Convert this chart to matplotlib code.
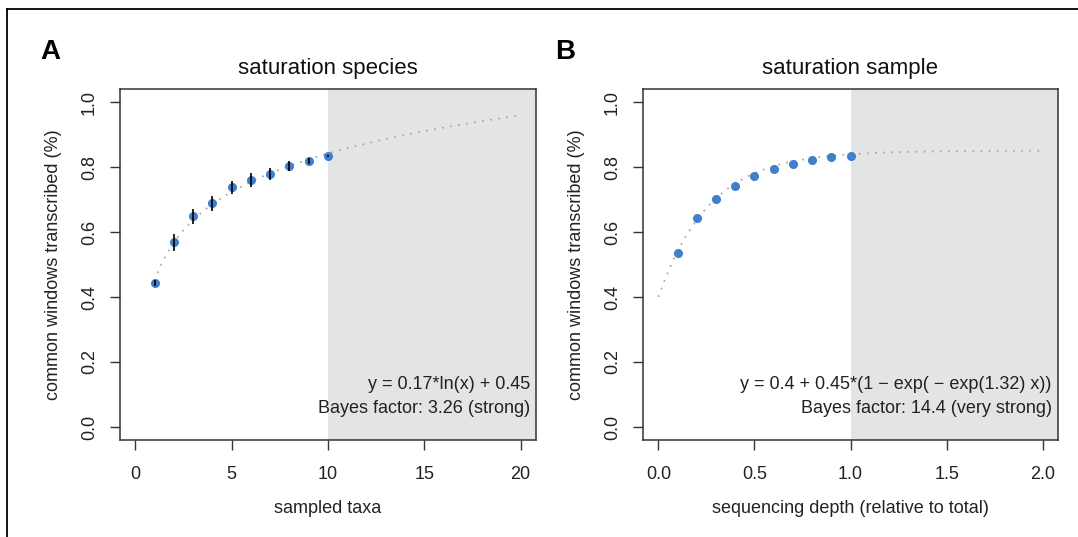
import numpy as np
import matplotlib
matplotlib.use("Agg")
import matplotlib.pyplot as plt
from matplotlib.lines import Line2D

plt.rcParams['font.family'] = ['Liberation Sans', 'DejaVu Sans']

# panel A: saturation over species
taxa = [1, 2, 3, 4, 5, 6, 7, 8, 9, 10]
taxa_mean = [0.442, 0.568, 0.648, 0.688, 0.738, 0.760, 0.779, 0.803, 0.819, 0.835]
taxa_err = [0.009, 0.026, 0.022, 0.023, 0.020, 0.023, 0.019, 0.015, 0.010, 0.003]
fit_a = (0.17, 0.45)          # y = a*ln(x) + b
bf_a = "Bayes factor: 3.26 (strong)"

# panel B: saturation over sequencing depth
depth = [0.1, 0.2, 0.3, 0.4, 0.5, 0.6, 0.7, 0.8, 0.9, 1.0]
depth_mean = [0.534, 0.643, 0.703, 0.743, 0.771, 0.793, 0.810, 0.823, 0.832, 0.834]
fit_b = (0.4, 0.45, 1.32)     # y = a + b*(1 - exp(-exp(c) x))
bf_b = "Bayes factor: 14.4 (very strong)"

blue = '#3f7fcb'
grey_bg = '#e3e4e4'
dotc = '#aaaaaa'
axc = '#333333'

fig = plt.figure(figsize=(10.78, 5.37), dpi=100)

# frame lines of the figure panel
fig.add_artist(Line2D([7/1078, 7/1078], [0, 1 - 9/537], color='black', lw=1.3))
fig.add_artist(Line2D([7/1078, 1], [1 - 9/537, 1 - 9/537], color='black', lw=1.3))

axA = fig.add_axes([120/1078, 97/537, 416/1078, 351/537])
axB = fig.add_axes([643/1078, 97/537, 415/1078, 351/537])


def style(ax, xlim, xticks, xlabels, xlabel, title):
    ax.set_xlim(*xlim)
    ax.set_ylim(-0.04, 1.04)
    ax.set_xticks(xticks)
    ax.set_xticklabels(xlabels)
    ax.set_yticks([0, 0.2, 0.4, 0.6, 0.8, 1.0])
    ax.set_yticklabels(['0.0', '0.2', '0.4', '0.6', '0.8', '1.0'], rotation=90, va='center')
    ax.tick_params(direction='out', length=7, width=1, color=axc, labelsize=13,
                   labelcolor='#222222', pad=9)
    ax.tick_params(axis='x', pad=12)
    for s in ax.spines.values():
        s.set_color(axc)
        s.set_linewidth(1.1)
        s.set_zorder(5)
    ax.set_xlabel(xlabel, fontsize=13, color='#222222')
    ax.xaxis.set_label_coords(0.5, -0.17)
    ax.set_ylabel('common windows transcribed (%)', fontsize=13, color='#222222')
    ax.yaxis.set_label_coords(-0.14, 0.5)
    ax.set_title(title, fontsize=16, pad=11, color='#111111')


# ---- A
style(axA, (-0.8, 20.8), [0, 5, 10, 15, 20], ['0', '5', '10', '15', '20'],
      'sampled taxa', 'saturation species')
axA.axvspan(10, 20.8, color=grey_bg, lw=0, zorder=0)
xa = np.linspace(1, 20, 200)
axA.plot(xa, fit_a[0] * np.log(xa) + fit_a[1], color=dotc, lw=1.3,
         linestyle=(0, (1, 3.5)), zorder=1)
axA.plot(taxa, taxa_mean, 'o', color=blue, ms=5.5, zorder=3)
axA.errorbar(taxa, taxa_mean, yerr=taxa_err, fmt='none', ecolor='black',
             elinewidth=1.2, capsize=0, zorder=4)
axA.text(0.985, 0.157, 'y = %.2f*ln(x) + %.2f' % fit_a, transform=axA.transAxes,
         ha='right', va='center', fontsize=13, color='#222222')
axA.text(0.985, 0.091, bf_a, transform=axA.transAxes,
         ha='right', va='center', fontsize=13, color='#222222')
fig.text(50/1078, 1 - 52/537, 'A', fontsize=20, fontweight='bold', ha='center', va='center')

# ---- B
style(axB, (-0.08, 2.08), [0, 0.5, 1.0, 1.5, 2.0], ['0.0', '0.5', '1.0', '1.5', '2.0'],
      'sequencing depth (relative to total)', 'saturation sample')
axB.axvspan(1.0, 2.08, color=grey_bg, lw=0, zorder=0)
xb = np.linspace(0, 2, 200)
axB.plot(xb, fit_b[0] + fit_b[1] * (1 - np.exp(-np.exp(fit_b[2]) * xb)), color=dotc,
         lw=1.3, linestyle=(0, (1, 3.5)), zorder=1)
axB.plot(depth, depth_mean, 'o', color=blue, ms=5.5, zorder=3)
axB.text(0.985, 0.157, 'y = %.1f + %.2f*(1 \u2212 exp( \u2212 exp(%.2f) x))' % fit_b,
         transform=axB.transAxes, ha='right', va='center', fontsize=13, color='#222222')
axB.text(0.985, 0.091, bf_b, transform=axB.transAxes,
         ha='right', va='center', fontsize=13, color='#222222')
fig.text(565/1078, 1 - 52/537, 'B', fontsize=20, fontweight='bold', ha='center', va='center')

fig.savefig('out.png', dpi=100)
